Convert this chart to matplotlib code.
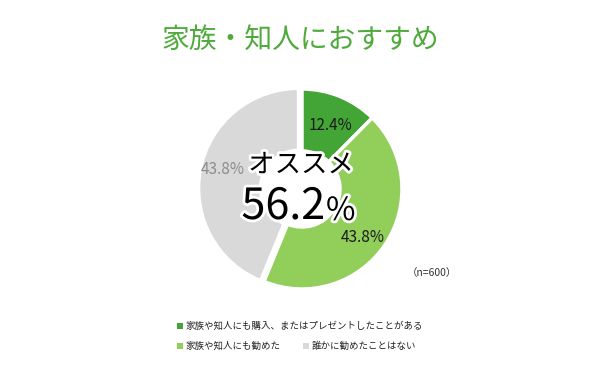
import matplotlib.pyplot as plt
import matplotlib.patheffects as pe
from matplotlib.patches import Rectangle

plt.rcParams['font.family'] = ['Noto Sans CJK JP', 'DejaVu Sans']

categories = ['家族や知人にも購入、またはプレゼントしたことがある', '家族や知人にも勧めた', '誰かに勧めたことはない']
shares = [12.4, 43.8, 43.8]
colors = ['#43A535', '#92CF5A', '#D9D9D9']
label_colors = ['#1a1a1a', '#1a1a1a', '#8c8c8c']
explode = [0, 0, 0.035]
recommend_total = shares[0] + shares[1]

fig = plt.figure(figsize=(6, 3.7), dpi=100)

# donut axes placed in pixel terms: centre (302,189), 220 px box
ax = fig.add_axes([(302 - 110) / 600, (370 - 189 - 110) / 370, 220 / 600, 220 / 370])

wedges, _ = ax.pie(shares, colors=colors, startangle=90, counterclock=False, radius=1.0,
                   explode=explode, wedgeprops=dict(width=0.62, edgecolor='white', linewidth=2.5))
ax.set_xlim(-1.1, 1.1)
ax.set_ylim(-1.1, 1.1)
ax.set_aspect('equal')
ax.axis('off')

label_pos = [(0.29, 0.63), (0.61, -0.49), (-0.79, 0.19)]
for (x, y), val, c in zip(label_pos, shares, label_colors):
    ax.text(x, y, f'{val}%', ha='center', va='center', fontsize=11, color=c)

stroke = [pe.withStroke(linewidth=4, foreground='white')]
ax.text(-0.01, 0.24, 'オススメ', ha='center', va='center', fontsize=19, color='black', path_effects=stroke)
ax.text(0.23, -0.18, f'{recommend_total:.1f}', ha='right', va='center', fontsize=31, color='black',
        path_effects=stroke)
ax.text(0.24, -0.22, '%', ha='left', va='center', fontsize=23, color='black', path_effects=stroke)

fig.text(0.5, 1 - 40 / 370, '家族・知人におすすめ', ha='center', va='center', fontsize=20, color='#4FAA3C')
fig.text(432 / 600, 1 - 273 / 370, '（n=600）', ha='center', va='center', fontsize=7.5, color='#333333')

# legend drawn by hand: first entry on its own row, other two share row two
legend_xy = [(180, 326), (180, 346), (306, 346)]
for (px, py), name, c in zip(legend_xy, categories, colors):
    fig.patches.append(Rectangle(((px - 3) / 600, 1 - (py + 3) / 370), 6 / 600, 6 / 370,
                                 transform=fig.transFigure, facecolor=c, edgecolor='none'))
    fig.text((px + 6) / 600, 1 - py / 370, name, ha='left', va='center', fontsize=6.8, color='#222222')

fig.savefig('out.png', dpi=100, facecolor='white')
